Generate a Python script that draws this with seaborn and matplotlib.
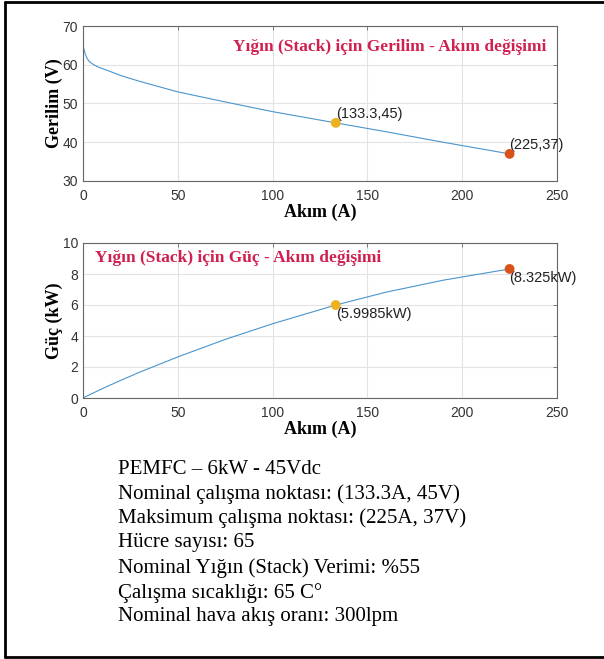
import matplotlib
matplotlib.use("Agg")
import matplotlib.pyplot as plt
import seaborn as sns
import pandas as pd
from matplotlib.lines import Line2D

# Polarisation data of the PEMFC stack
current_a = [0, 0.5, 1, 2, 3, 5, 8, 12, 20, 30, 50, 75, 100, 133.3, 160, 190, 225]
voltage_v = [65.0, 64.0, 63.0, 61.8, 61.0, 60.2, 59.4, 58.7, 57.2, 55.7, 53.0, 50.4, 47.9,
             45.0, 42.7, 40.0, 37.0]
power_kw = [0.0, 0.032, 0.063, 0.124, 0.183, 0.301, 0.475, 0.704, 1.144, 1.671, 2.650,
            3.780, 4.790, 5.9985, 6.832, 7.600, 8.325]

# Operating points: nominal and maximum
op_current = [133.3, 225]
op_voltage = [45, 37]
op_power = [5.9985, 8.325]
op_colors = ["#EDB120", "#D95319"]
v_labels = ["(133.3,45)", "(225,37)"]
p_labels = ["(5.9985kW)", "(8.325kW)"]

info_lines = [
    "PEMFC – 6kW - 45Vdc",
    "Nominal çalışma noktası: (133.3A, 45V)",
    "Maksimum çalışma noktası: (225A, 37V)",
    "Hücre sayısı: 65",
    "Nominal Yığın (Stack) Verimi: %55",
    "Çalışma sıcaklığı: 65 C°",
    "Nominal hava akış oranı: 300lpm",
]

sns.set_theme(style="whitegrid")
plt.rcParams["font.family"] = ["Liberation Sans", "DejaVu Sans"]

curve = pd.DataFrame({"I": current_a, "V": voltage_v, "P": power_kw})
points = pd.DataFrame({"I": op_current, "V": op_voltage, "P": op_power, "c": op_colors})

fig = plt.figure(figsize=(6.04, 6.59), dpi=100)
W, H = 604, 659

def make_axes(top_px, bottom_px):
    return fig.add_axes([83 / W, 1 - bottom_px / H, 474 / W, (bottom_px - top_px) / H])

ax1 = make_axes(26, 181)
ax2 = make_axes(243, 398)

line_color = "#4a95cc"
title_color = "#D0204F"
serif = ["Liberation Serif", "DejaVu Serif"]

for ax, ycol, ylim, yticks, ylabel in [
    (ax1, "V", (30, 70), [30, 40, 50, 60, 70], "Gerilim (V)"),
    (ax2, "P", (0, 10), [0, 2, 4, 6, 8, 10], "Güç (kW)"),
]:
    sns.lineplot(data=curve, x="I", y=ycol, ax=ax, color=line_color, linewidth=0.8,
                 sort=False, estimator=None)
    sns.scatterplot(data=points, x="I", y=ycol, ax=ax, hue="c", palette=op_colors,
                    s=50, edgecolor="none", legend=False, zorder=5)
    ax.set_xlim(0, 250)
    ax.set_ylim(*ylim)
    ax.set_xticks([0, 50, 100, 150, 200, 250])
    ax.set_yticks(yticks)
    ax.set_facecolor("white")
    ax.grid(True, color="#e3e3e3", linewidth=0.8)
    for sp in ax.spines.values():
        sp.set_visible(True)
        sp.set_color("#666666")
        sp.set_linewidth(0.8)
    ax.tick_params(axis="both", direction="in", length=3, width=0.6, color="#666666",
                   labelsize=10, labelcolor="#333333", top=True, right=True)
    ax.tick_params(axis="x", pad=6)
    ax.tick_params(axis="y", pad=3.5)
    ax.set_xlabel("Akım (A)", family=serif, fontweight="bold", fontsize=13, labelpad=0,
                  color="black")
    ax.set_ylabel(ylabel, family=serif, fontweight="bold", fontsize=13, labelpad=0,
                  color="black")

# Value tips for the operating points
for x, y, txt in zip(op_current, op_voltage, v_labels):
    ax1.annotate(txt, (x, y), xytext=(0, 1.5), textcoords="offset points",
                 ha="left", va="bottom", fontsize=10.5, color="#222222")
for x, y, txt in zip(op_current, op_power, p_labels):
    ax2.annotate(txt, (x, y), xytext=(0, -1.5), textcoords="offset points",
                 ha="left", va="top", fontsize=10.5, color="#222222")

ax1.text(233 / W, 1 - 47 / H, "Yığın (Stack) için Gerilim - Akım değişimi",
         transform=fig.transFigure, family=serif, fontweight="bold", fontsize=12.5,
         color=title_color, ha="left", va="center")
ax2.text(95 / W, 1 - 258 / H, "Yığın (Stack) için Güç - Akım değişimi",
         transform=fig.transFigure, family=serif, fontweight="bold", fontsize=12.5,
         color=title_color, ha="left", va="center")

# Specification block
line_y = [470, 494, 518, 543, 568, 593, 617]
for y, txt in zip(line_y, info_lines):
    fig.text(118 / W, 1 - y / H, txt, family=serif, fontsize=15, color="black",
             ha="left", va="center")

# Frame around the figure (open on the right)
frame_kw = dict(transform=fig.transFigure, color="black", linewidth=2)
fig.add_artist(Line2D([5 / W, 5 / W], [1 - 2 / H, 1 - 657 / H], **frame_kw))
fig.add_artist(Line2D([5 / W, 1], [1 - 2 / H, 1 - 2 / H], **frame_kw))
fig.add_artist(Line2D([5 / W, 1], [1 - 657 / H, 1 - 657 / H], **frame_kw))

fig.savefig("out.png", dpi=100, facecolor="white")
